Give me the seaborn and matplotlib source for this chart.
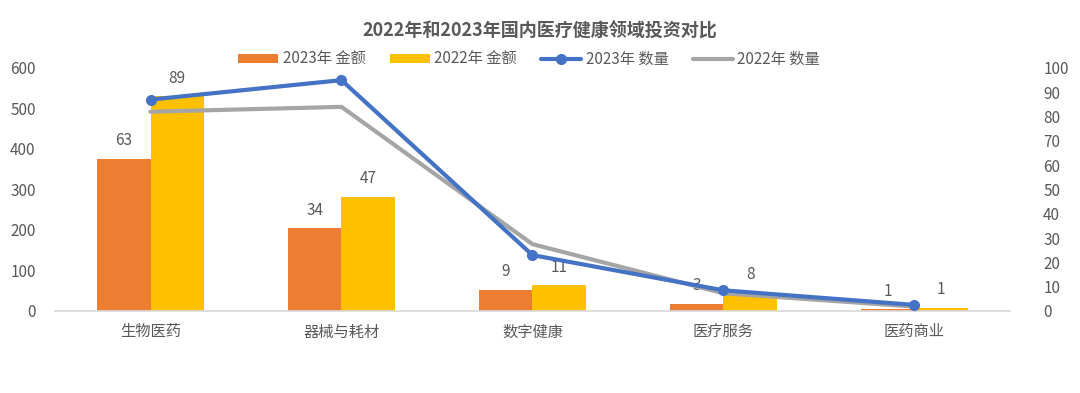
import matplotlib
matplotlib.use("Agg")
import matplotlib.pyplot as plt
import seaborn as sns
import pandas as pd
from matplotlib.patches import Patch
from matplotlib.lines import Line2D

categories = ["生物医药", "器械与耗材", "数字健康", "医疗服务", "医药商业"]
amount_2023 = [375, 204, 52, 17, 4]
amount_2022 = [530, 282, 63, 44, 8]
count_2023 = [87, 95, 23, 8.5, 2.5]
count_2022 = [82, 84, 27.5, 7.3, 1.8]
label_2023 = ["63", "34", "9", "3", "1"]
label_2022 = ["89", "47", "11", "8", "1"]
series_names = ["2023年 金额", "2022年 金额", "2023年 数量", "2022年 数量"]
title = "2022年和2023年国内医疗健康领域投资对比"

sns.set_theme(style="white")
plt.rcParams["font.family"] = ["Noto Sans CJK SC", "DejaVu Sans"]
TXT = "#595959"

bar_df = pd.DataFrame({
    "cat": categories * 2,
    "val": amount_2023 + amount_2022,
    "series": [series_names[0]] * 5 + [series_names[1]] * 5,
})

fig = plt.figure(figsize=(10.8, 3.93), dpi=100)
ax = fig.add_axes([0.051, 0.2087, 0.884, 0.6183])
sns.barplot(data=bar_df, x="cat", y="val", hue="series", ax=ax,
            palette=["#ED7D31", "#FFC000"], width=0.56, gap=0,
            saturation=1, legend=False, linewidth=0, edgecolor="none")
ax.set_ylim(0, 600)
ax.set_yticks(range(0, 601, 100))
ax.set_xlim(-0.5, 4.5)
ax.set_xlabel("")
ax.set_ylabel("")
for c, labs in zip(ax.containers, [label_2023, label_2022]):
    ax.bar_label(c, labels=labs, padding=7, color=TXT, fontsize=11)

ax2 = ax.twinx()
line_df = pd.DataFrame({"x": list(range(5)) * 2,
                        "y": count_2023 + count_2022,
                        "series": [series_names[2]] * 5 + [series_names[3]] * 5})
sns.lineplot(data=line_df[line_df.series == series_names[3]], x="x", y="y",
             ax=ax2, color="#A5A5A5", linewidth=3, sort=False, legend=False)
sns.lineplot(data=line_df[line_df.series == series_names[2]], x="x", y="y",
             ax=ax2, color="#4472C4", linewidth=3, marker="o", markersize=8,
             markeredgewidth=0, sort=False, legend=False)
ax2.set_ylim(0, 100)
ax2.set_yticks(range(0, 101, 10))
ax2.set_xlim(-0.5, 4.5)
ax2.set_xlabel("")
ax2.set_ylabel("")

for a in (ax, ax2):
    for s in a.spines.values():
        s.set_visible(False)
    a.tick_params(length=0, labelsize=11, labelcolor=TXT)
ax.spines["bottom"].set_visible(True)
ax.spines["bottom"].set_color("#D9D9D9")
ax.tick_params(axis="y", pad=14)
ax.tick_params(axis="x", pad=9)
ax2.tick_params(axis="y", pad=24)

fig.text(0.5, 0.92, title, ha="center", va="center", fontsize=13,
         fontweight="bold", color=TXT)

handles = [
    Patch(facecolor="#ED7D31", edgecolor="none"),
    Patch(facecolor="#FFC000", edgecolor="none"),
    Line2D([], [], color="#4472C4", linewidth=3, marker="o", markersize=7),
    Line2D([], [], color="#A5A5A5", linewidth=3),
]
leg = fig.legend(handles, series_names, loc="center", bbox_to_anchor=(0.49, 0.848),
                 ncol=4, frameon=False, fontsize=11, handlelength=2.6,
                 handleheight=0.5, columnspacing=1.6, handletextpad=0.3)
for t in leg.get_texts():
    t.set_color(TXT)

fig.savefig("out.png", dpi=100)
